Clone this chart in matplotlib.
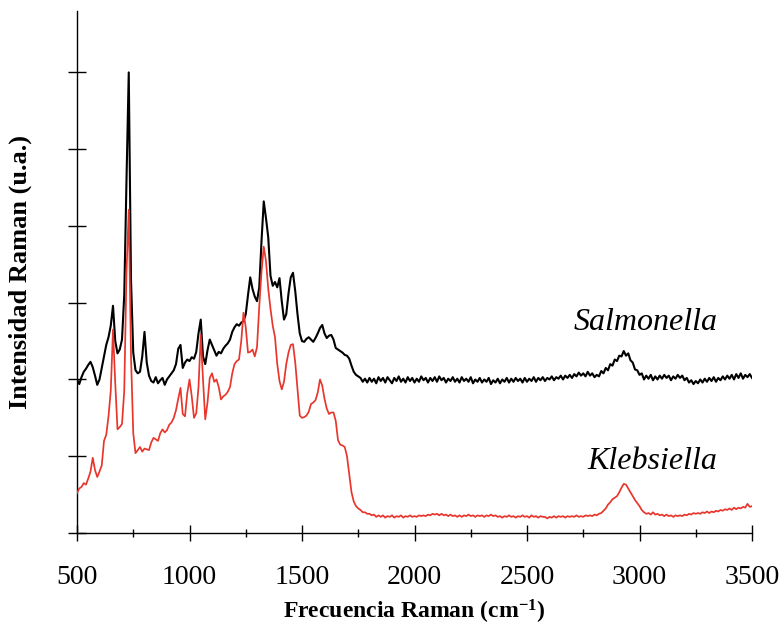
import matplotlib
matplotlib.use("Agg")
import matplotlib.pyplot as plt
from matplotlib.ticker import MultipleLocator

plt.rcParams['font.family'] = ['Liberation Serif', 'DejaVu Serif']
plt.rcParams['mathtext.fontset'] = 'custom'
plt.rcParams['mathtext.rm'] = 'Liberation Serif:bold'
plt.rcParams['mathtext.bf'] = 'Liberation Serif:bold'
plt.rcParams['mathtext.it'] = 'Liberation Serif:bold'

# Raman shift (cm^-1), shared by both spectra
wavenumber = [
    500, 510, 520, 530, 540, 550, 560, 570, 580, 590,
    600, 610, 620, 630, 640, 650, 660, 670, 680, 690,
    700, 710, 720, 730, 740, 750, 760, 770, 780, 790,
    800, 810, 820, 830, 840, 850, 860, 870, 880, 890,
    900, 910, 920, 930, 940, 950, 960, 970, 980, 990,
    1000, 1010, 1020, 1030, 1040, 1050, 1060, 1070, 1080, 1090,
    1100, 1110, 1120, 1130, 1140, 1150, 1160, 1170, 1180, 1190,
    1200, 1210, 1220, 1230, 1240, 1250, 1260, 1270, 1280, 1290,
    1300, 1310, 1320, 1330, 1340, 1350, 1360, 1370, 1380, 1390,
    1400, 1410, 1420, 1430, 1440, 1450, 1460, 1470, 1480, 1490,
    1500, 1510, 1520, 1530, 1540, 1550, 1560, 1570, 1580, 1590,
    1600, 1610, 1620, 1630, 1640, 1650, 1660, 1670, 1680, 1690,
    1700, 1710, 1720, 1730, 1740, 1750, 1760, 1770, 1780, 1790,
    1800, 1810, 1820, 1830, 1840, 1850, 1860, 1870, 1880, 1890,
    1900, 1910, 1920, 1930, 1940, 1950, 1960, 1970, 1980, 1990,
    2000, 2010, 2020, 2030, 2040, 2050, 2060, 2070, 2080, 2090,
    2100, 2110, 2120, 2130, 2140, 2150, 2160, 2170, 2180, 2190,
    2200, 2210, 2220, 2230, 2240, 2250, 2260, 2270, 2280, 2290,
    2300, 2310, 2320, 2330, 2340, 2350, 2360, 2370, 2380, 2390,
    2400, 2410, 2420, 2430, 2440, 2450, 2460, 2470, 2480, 2490,
    2500, 2510, 2520, 2530, 2540, 2550, 2560, 2570, 2580, 2590,
    2600, 2610, 2620, 2630, 2640, 2650, 2660, 2670, 2680, 2690,
    2700, 2710, 2720, 2730, 2740, 2750, 2760, 2770, 2780, 2790,
    2800, 2810, 2820, 2830, 2840, 2850, 2860, 2870, 2880, 2890,
    2900, 2910, 2920, 2930, 2940, 2950, 2960, 2970, 2980, 2990,
    3000, 3010, 3020, 3030, 3040, 3050, 3060, 3070, 3080, 3090,
    3100, 3110, 3120, 3130, 3140, 3150, 3160, 3170, 3180, 3190,
    3200, 3210, 3220, 3230, 3240, 3250, 3260, 3270, 3280, 3290,
    3300, 3310, 3320, 3330, 3340, 3350, 3360, 3370, 3380, 3390,
    3400, 3410, 3420, 3430, 3440, 3450, 3460, 3470, 3480, 3490,
    3500,
]

salmonella = [
    2.00, 1.94, 2.03, 2.10, 2.14, 2.19, 2.23, 2.16, 2.05, 1.93,
    2.00, 2.15, 2.30, 2.45, 2.55, 2.70, 2.96, 2.50, 2.34, 2.39,
    2.52, 3.10, 4.60, 6.00, 3.30, 2.35, 2.12, 2.08, 2.10, 2.30,
    2.62, 2.22, 2.05, 1.98, 1.96, 2.03, 1.95, 1.99, 2.02, 1.93,
    2.00, 2.04, 2.08, 2.12, 2.20, 2.40, 2.45, 2.15, 2.22, 2.26,
    2.24, 2.29, 2.27, 2.36, 2.60, 2.78, 2.30, 2.20, 2.38, 2.52,
    2.45, 2.38, 2.31, 2.36, 2.34, 2.40, 2.44, 2.47, 2.52, 2.62,
    2.68, 2.72, 2.70, 2.74, 2.76, 2.85, 3.10, 3.33, 3.18, 3.08,
    3.02, 3.20, 3.80, 4.32, 4.10, 3.85, 3.35, 3.22, 3.27, 3.20,
    3.32, 3.02, 2.78, 2.85, 3.12, 3.33, 3.39, 3.15, 2.85, 2.60,
    2.50, 2.49, 2.53, 2.55, 2.52, 2.49, 2.54, 2.60, 2.67, 2.71,
    2.60, 2.54, 2.57, 2.58, 2.52, 2.41, 2.39, 2.37, 2.35, 2.32,
    2.31, 2.27, 2.18, 2.10, 2.06, 2.04, 2.02, 1.97, 2.01, 1.96,
    2.02, 1.97, 2.01, 1.95, 2.03, 1.98, 2.02, 1.96, 2.03, 1.99,
    1.95, 2.02, 1.98, 2.04, 1.97, 2.01, 1.96, 2.03, 1.98, 2.02,
    1.96, 2.01, 1.97, 2.04, 1.99, 2.02, 1.96, 2.02, 1.98, 2.03,
    1.97, 2.04, 1.99, 2.02, 1.96, 2.01, 1.98, 2.03, 1.97, 2.01,
    1.96, 2.03, 1.98, 2.01, 1.97, 2.03, 1.95, 2.00, 1.97, 2.02,
    1.96, 2.00, 1.97, 2.02, 1.94, 1.99, 1.96, 2.01, 1.95, 2.00,
    1.97, 2.02, 1.96, 2.01, 1.97, 2.02, 1.98, 2.01, 1.96, 2.02,
    1.97, 2.01, 1.98, 2.03, 1.97, 2.02, 1.99, 2.03, 1.98, 2.02,
    2.00, 2.04, 1.99, 2.03, 2.01, 2.05, 2.00, 2.05, 2.02, 2.06,
    2.02, 2.07, 2.04, 2.09, 2.05, 2.08, 2.04, 2.10, 2.05, 2.08,
    2.03, 2.06, 2.04, 2.11, 2.08, 2.15, 2.12, 2.20, 2.18, 2.26,
    2.24, 2.31, 2.30, 2.37, 2.31, 2.34, 2.25, 2.22, 2.13, 2.12,
    2.06, 2.08, 2.00, 2.05, 2.01, 2.06, 1.99, 2.04, 2.00, 2.05,
    2.01, 2.06, 2.02, 2.05, 1.99, 2.04, 2.01, 2.06, 2.02, 2.05,
    1.99, 2.02, 1.96, 1.99, 1.94, 1.98, 1.95, 2.00, 1.96, 2.01,
    1.97, 2.02, 1.98, 2.03, 1.97, 2.02, 1.99, 2.04, 2.00, 2.05,
    2.01, 2.06, 2.00, 2.07, 2.02, 2.08, 2.01, 2.06, 2.03, 2.07,
    2.02,
]

klebsiella = [
    0.52, 0.58, 0.60, 0.65, 0.63, 0.71, 0.80, 0.98, 0.82, 0.73,
    0.80, 0.88, 1.20, 1.28, 1.52, 1.85, 2.65, 1.95, 1.35, 1.38,
    1.42, 1.85, 3.40, 4.21, 2.30, 1.30, 1.04, 1.08, 1.12, 1.06,
    1.10, 1.09, 1.08, 1.18, 1.24, 1.22, 1.20, 1.30, 1.35, 1.31,
    1.34, 1.41, 1.44, 1.50, 1.60, 1.75, 1.89, 1.55, 1.52, 1.82,
    2.00, 1.78, 1.50, 1.56, 1.90, 2.58, 2.00, 1.48, 1.70, 2.02,
    2.08, 1.97, 2.00, 1.90, 1.74, 1.78, 1.80, 1.84, 1.90, 2.08,
    2.20, 2.24, 2.26, 2.50, 2.87, 2.68, 2.35, 2.36, 2.39, 2.30,
    2.42, 2.95, 3.40, 3.73, 3.54, 3.18, 2.92, 2.70, 2.55, 2.20,
    1.98, 1.87, 1.97, 2.20, 2.35, 2.45, 2.46, 2.22, 1.88, 1.53,
    1.50, 1.51, 1.53, 1.58, 1.68, 1.70, 1.73, 1.83, 2.00, 1.92,
    1.75, 1.62, 1.55, 1.57, 1.57, 1.46, 1.21, 1.15, 1.14, 1.12,
    1.00, 0.76, 0.53, 0.41, 0.35, 0.32, 0.30, 0.27, 0.27, 0.25,
    0.25, 0.23, 0.24, 0.21, 0.23, 0.21, 0.23, 0.20, 0.22, 0.21,
    0.23, 0.20, 0.22, 0.21, 0.23, 0.20, 0.22, 0.21, 0.23, 0.21,
    0.22, 0.21, 0.23, 0.22, 0.23, 0.22, 0.24, 0.23, 0.25, 0.24,
    0.25, 0.23, 0.25, 0.23, 0.24, 0.22, 0.24, 0.22, 0.23, 0.21,
    0.23, 0.21, 0.23, 0.22, 0.24, 0.22, 0.23, 0.21, 0.23, 0.22,
    0.23, 0.21, 0.23, 0.22, 0.24, 0.22, 0.23, 0.21, 0.22, 0.20,
    0.22, 0.21, 0.23, 0.21, 0.22, 0.20, 0.22, 0.21, 0.23, 0.21,
    0.22, 0.20, 0.23, 0.21, 0.22, 0.20, 0.22, 0.21, 0.21, 0.19,
    0.21, 0.20, 0.22, 0.20, 0.22, 0.21, 0.22, 0.20, 0.22, 0.21,
    0.22, 0.21, 0.23, 0.21, 0.22, 0.21, 0.23, 0.22, 0.23, 0.22,
    0.24, 0.23, 0.25, 0.26, 0.29, 0.32, 0.37, 0.40, 0.44, 0.46,
    0.48, 0.53, 0.59, 0.64, 0.63, 0.58, 0.53, 0.48, 0.43, 0.39,
    0.35, 0.30, 0.27, 0.25, 0.26, 0.24, 0.27, 0.24, 0.25, 0.23,
    0.24, 0.22, 0.24, 0.22, 0.23, 0.21, 0.23, 0.22, 0.23, 0.22,
    0.24, 0.23, 0.25, 0.24, 0.26, 0.25, 0.26, 0.25, 0.27, 0.26,
    0.28, 0.26, 0.28, 0.27, 0.29, 0.28, 0.30, 0.29, 0.31, 0.30,
    0.32, 0.30, 0.33, 0.31, 0.33, 0.32, 0.34, 0.33, 0.38, 0.34,
    0.35,
]

x_ticks = [500, 1000, 1500, 2000, 2500, 3000, 3500]
series_names = ["Salmonella", "Klebsiella"]

fig = plt.figure(figsize=(7.8, 6.26), dpi=100)
ax = fig.add_axes([77 / 780, 93 / 626, 675 / 780, 522 / 626])

ax.plot(wavenumber, salmonella, color='#000000', lw=1.5, zorder=2)
ax.plot(wavenumber, klebsiella, color='#e8362c', lw=1.25, zorder=3)

ax.set_xlim(500, 3500)
ax.set_ylim(0, 6.8)

for side in ('top', 'right'):
    ax.spines[side].set_visible(False)
for side in ('left', 'bottom'):
    ax.spines[side].set_linewidth(1.0)

ax.set_xticks(x_ticks)
ax.set_xticklabels([str(v) for v in x_ticks])
ax.xaxis.set_minor_locator(MultipleLocator(250))
ax.yaxis.set_major_locator(MultipleLocator(1))
ax.set_yticklabels([])
ax.tick_params(axis='x', which='major', direction='inout', length=12,
               width=1.0, labelsize=20, pad=17)
ax.tick_params(axis='x', which='minor', direction='inout', length=6,
               width=1.0)
ax.tick_params(axis='y', which='major', direction='inout', length=13,
               width=1.0)

ax.set_xlabel(r'Frecuencia Raman (cm$^{-1}$)', fontsize=17,
              fontweight='bold')
ax.xaxis.set_label_coords(0.5, -0.124)
ax.set_ylabel('Intensidad Raman (u.a.)', fontsize=19, fontweight='bold')
ax.yaxis.set_label_coords(-0.067, 0.5)

ax.text(3345, 2.65, series_names[0], ha='right', va='baseline',
        fontsize=23, style='italic')
ax.text(3345, 0.835, series_names[1], ha='right', va='baseline',
        fontsize=23, style='italic')

fig.savefig('out.png', dpi=100)
